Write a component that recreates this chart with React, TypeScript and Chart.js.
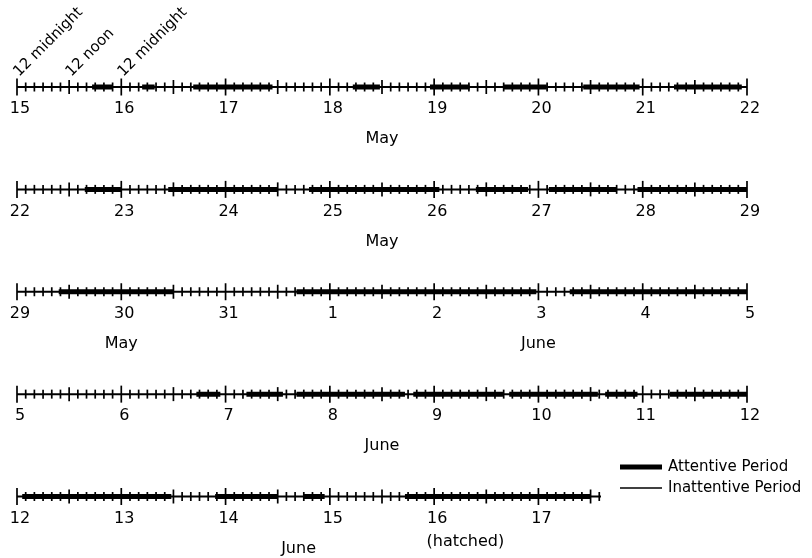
import React, { useEffect, useRef } from "react";
import { Chart, registerables } from "chart.js";

Chart.register(...registerables);

// ---- data ----
const rowDayLabels: string[][] = [
  ["15", "16", "17", "18", "19", "20", "21", "22"],
  ["22", "23", "24", "25", "26", "27", "28", "29"],
  ["29", "30", "31", "1", "2", "3", "4", "5"],
  ["5", "6", "7", "8", "9", "10", "11", "12"],
  ["12", "13", "14", "15", "16", "17"],
];
// length of each row's time line, in days from the row's first day
const rowSpanDays = [7, 7, 7, 7, 5.6];
// attentive periods, [start, end] in days from the row's first day
const attentiveRow1: number[][] = [[0.72, 0.92], [1.2, 1.32], [1.69, 2.45], [3.22, 3.48], [3.96, 4.34], [4.66, 5.08], [5.43, 5.97], [6.3, 6.95]];
const attentiveRow2: number[][] = [[0.65, 1.0], [1.45, 2.5], [2.8, 4.05], [4.4, 4.9], [5.1, 5.75], [5.95, 7.0]];
const attentiveRow3: number[][] = [[0.4, 1.5], [2.68, 4.98], [5.3, 7.0]];
const attentiveRow4: number[][] = [[1.72, 1.95], [2.2, 2.55], [2.68, 3.72], [3.8, 4.66], [4.72, 5.57], [5.64, 5.95], [6.26, 7.0]];
const attentiveRow5: number[][] = [[0.05, 1.48], [1.9, 2.5], [2.75, 2.95], [3.72, 5.5]];
const attentiveRows = [attentiveRow1, attentiveRow2, attentiveRow3, attentiveRow4, attentiveRow5];

const monthRows = [0, 1, 2, 2, 3, 4, 4];
const monthDays = [3.5, 3.5, 1.0, 5.0, 3.5, 2.7, 4.3];
const monthTexts = ["May", "May", "May", "June", "June", "June", "(hatched)"];

const hourLabels = ["12 midnight", "12 noon", "12 midnight"];
const hourLabelDays = [0, 0.5, 1];

const legendLabels = ["Attentive Period", "Inattentive Period"];

const TICKS_PER_DAY = 12; // every 2 hours

const FONT = "'DejaVu Sans', sans-serif";

export default function App() {
  const ref = useRef<HTMLCanvasElement | null>(null);

  useEffect(() => {
    const canvas = ref.current;
    if (!canvas) return;

    const datasets: any[] = [];

    // thin base lines (inattentive)
    rowSpanDays.forEach((span, r) => {
      datasets.push({
        type: "line",
        data: [{ x: 0, y: r }, { x: span, y: r }],
        borderColor: "#000",
        borderWidth: 2,
        pointRadius: 0,
        borderCapStyle: "butt",
        clip: false,
        order: 3,
      });
    });

    // thick segments (attentive)
    attentiveRows.forEach((segs, r) => {
      const pts: any[] = [];
      segs.forEach(([s, e], i) => {
        if (i > 0) pts.push({ x: (s + segs[i - 1][1]) / 2, y: NaN });
        pts.push({ x: s, y: r }, { x: e, y: r });
      });
      datasets.push({
        type: "line",
        data: pts,
        borderColor: "#000",
        borderWidth: 5,
        pointRadius: 0,
        spanGaps: false,
        borderCapStyle: "butt",
        clip: false,
        order: 2,
      });
    });

    // tick marks
    const minor: any[] = [];
    const noon: any[] = [];
    const midnight: any[] = [];
    rowSpanDays.forEach((span, r) => {
      const n = Math.floor(span * TICKS_PER_DAY + 1e-6);
      for (let k = 0; k <= n; k++) {
        const p = { x: k / TICKS_PER_DAY, y: r };
        if (k % TICKS_PER_DAY === 0) midnight.push(p);
        else if (k % (TICKS_PER_DAY / 2) === 0) noon.push(p);
        else minor.push(p);
      }
    });
    const tickSet = (data: any[], radius: number) => ({
      type: "scatter",
      data,
      pointStyle: "line",
      rotation: 90,
      pointRadius: radius,
      pointBorderColor: "#000",
      pointBackgroundColor: "#000",
      pointBorderWidth: 1.7,
      showLine: false,
      clip: false,
      order: 1,
    });
    datasets.push(tickSet(minor, 4.5), tickSet(noon, 7), tickSet(midnight, 8.5));

    const textPlugin = {
      id: "texts",
      afterDatasetsDraw(chart: any) {
        const ctx = chart.ctx as CanvasRenderingContext2D;
        const xs = chart.scales.x;
        const ys = chart.scales.y;
        ctx.save();
        ctx.fillStyle = "#000";

        // day numbers
        ctx.font = `16px ${FONT}`;
        ctx.textAlign = "center";
        ctx.textBaseline = "middle";
        rowDayLabels.forEach((labels, r) => {
          const y = ys.getPixelForValue(r) + 22;
          labels.forEach((lab, i) => {
            ctx.fillText(lab, xs.getPixelForValue(i) + 3, y);
          });
        });

        // month labels
        monthTexts.forEach((t, i) => {
          const r = monthRows[i];
          const dy = t.startsWith("(") ? 45 : 52;
          ctx.fillText(t, xs.getPixelForValue(monthDays[i]), ys.getPixelForValue(r) + dy);
        });

        // rotated hour labels
        ctx.font = `15px ${FONT}`;
        ctx.textAlign = "left";
        ctx.textBaseline = "alphabetic";
        hourLabels.forEach((t, i) => {
          const x = xs.getPixelForValue(hourLabelDays[i]) + 2;
          const y = ys.getPixelForValue(0) - 10;
          ctx.save();
          ctx.translate(x, y);
          ctx.rotate(-Math.PI / 4);
          ctx.fillText(t, 0, 0);
          ctx.restore();
        });

        // legend
        const lx0 = 620, lx1 = 662;
        const ly = [467, 488];
        const lw = [5, 1.6];
        ctx.strokeStyle = "#000";
        ctx.lineCap = "butt";
        ctx.font = `15px ${FONT}`;
        ctx.textBaseline = "middle";
        legendLabels.forEach((t, i) => {
          ctx.lineWidth = lw[i];
          ctx.beginPath();
          ctx.moveTo(lx0, ly[i]);
          ctx.lineTo(lx1, ly[i]);
          ctx.stroke();
          ctx.fillText(t, 668, ly[i]);
        });
        ctx.restore();
      },
    };

    const chart = new Chart(canvas, {
      type: "line",
      data: { datasets },
      options: {
        animation: false,
        responsive: false,
        maintainAspectRatio: false,
        layout: { padding: { left: 17, right: 65, top: 87, bottom: 61.5 } },
        plugins: { legend: { display: false }, tooltip: { enabled: false } },
        scales: {
          x: { type: "linear", min: 0, max: 7, display: false },
          y: { type: "linear", min: 0, max: 4, reverse: true, display: false },
        },
      },
      plugins: [textPlugin],
    } as any);

    return () => chart.destroy();
  }, []);

  return (
    <div style={{ position: "absolute", left: 0, top: 0, width: 812, height: 558, background: "#fff" }}>
      <canvas ref={ref} width={812} height={558} style={{ width: 812, height: 558, display: "block" }} />
    </div>
  );
}
